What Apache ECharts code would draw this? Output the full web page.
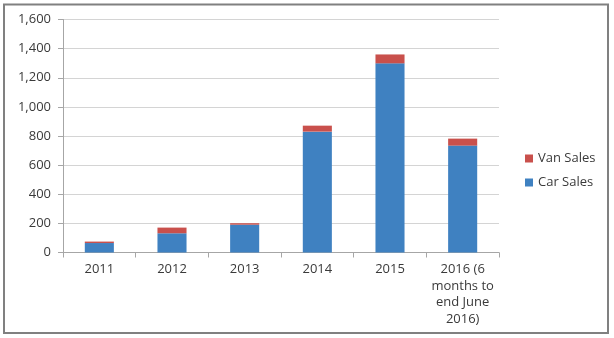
<!DOCTYPE html>
<html>
<head>
<meta charset="utf-8">
<script src="https://cdn.jsdelivr.net/npm/echarts@6/dist/echarts.min.js"></script>
<style>
html,body{margin:0;padding:0;background:#fff;}
#c{width:614px;height:338px;}
</style>
</head>
<body>
<div id="c"></div>
<script>
var categories = ['2011', '2012', '2013', '2014', '2015', '2016 (6\nmonths to\nend June\n2016)'];
var carSales = [65, 132, 191, 830, 1299, 734];
var vanSales = [10, 39, 10, 41, 61, 48];
var yTicks = [0, 200, 400, 600, 800, 1000, 1200, 1400, 1600];

var FONT = 'Open Sans';
var TXT = '#3a3a3a';
var chart = echarts.init(document.getElementById('c'));
chart.setOption({
  animation: false,
  backgroundColor: '#fff',
  graphic: [{
    type: 'rect',
    shape: { x: 4, y: 4.5, width: 604, height: 328.5 },
    style: { fill: 'none', stroke: '#808080', lineWidth: 2 }
  }],
  grid: { left: 63, right: 115, top: 19.5, bottom: 85.5, containLabel: false },
  legend: {
    orient: 'vertical',
    left: 520,
    top: 147,
    itemWidth: 8,
    itemHeight: 8,
    itemGap: 11,
    icon: 'rect',
    data: ['Van Sales', 'Car Sales'],
    textStyle: { fontFamily: FONT, fontSize: 13, color: TXT }
  },
  xAxis: {
    type: 'category',
    data: categories,
    axisLine: { lineStyle: { color: '#a6a6a6', width: 1 } },
    axisTick: { show: true, length: 5, lineStyle: { color: '#a6a6a6' } },
    axisLabel: { fontFamily: FONT, fontSize: 13, color: TXT, margin: 9, lineHeight: 16.5, interval: 0 }
  },
  yAxis: {
    type: 'value',
    min: yTicks[0],
    max: yTicks[yTicks.length - 1],
    interval: 200,
    axisLine: { show: true, lineStyle: { color: '#a6a6a6', width: 1 } },
    axisTick: { show: true, length: 5, lineStyle: { color: '#a6a6a6' } },
    splitLine: { lineStyle: { color: '#d4d4d4', width: 1 } },
    axisLabel: {
      fontFamily: FONT, fontSize: 13, color: TXT, margin: 12,
      formatter: function (v) { return v.toLocaleString('en-US'); }
    }
  },
  series: [
    {
      name: 'Car Sales', type: 'bar', stack: 's', data: carSales, barWidth: '40%',
      itemStyle: { color: '#3f81c1' }
    },
    {
      name: 'Van Sales', type: 'bar', stack: 's', data: vanSales, barWidth: '40%',
      itemStyle: { color: '#c9504c' }
    }
  ]
});
</script>
</body>
</html>
